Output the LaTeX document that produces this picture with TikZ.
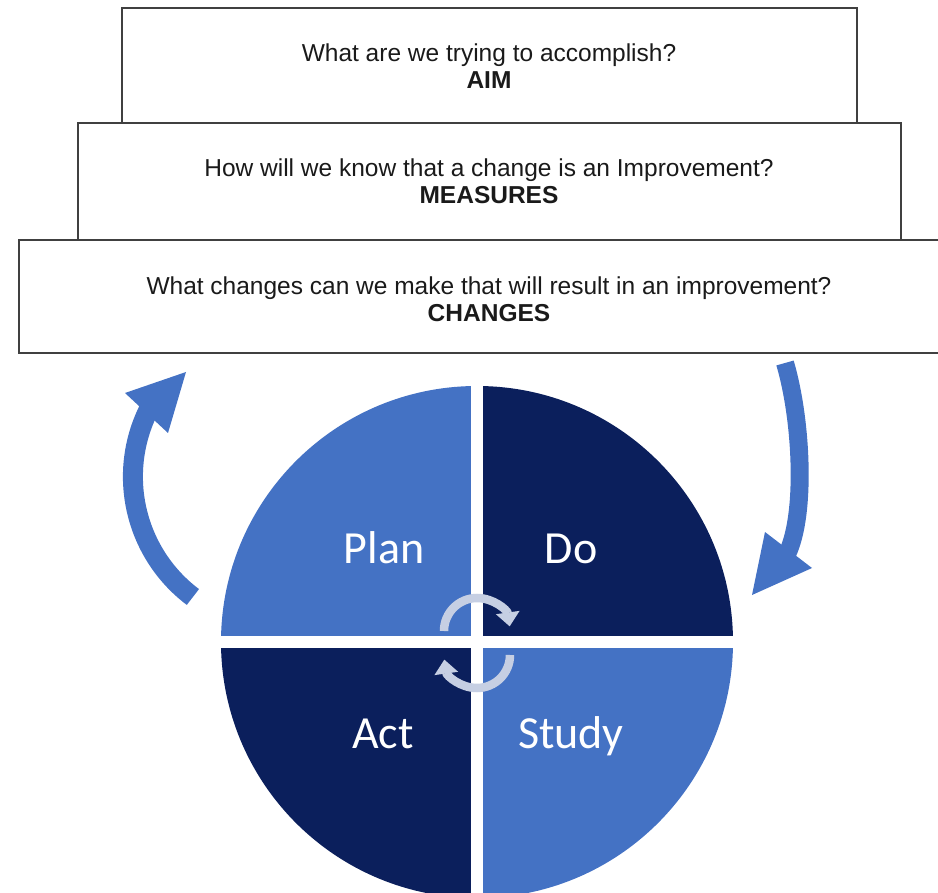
\documentclass[tikz,border=0pt]{standalone}
\usepackage{fontspec}
\setmainfont{Liberation Sans}
\newfontfamily\calib{Carlito}
\usetikzlibrary{arrows.meta}
\definecolor{lightblue}{HTML}{4472C4}
\definecolor{darknavy}{HTML}{0B1F5C}
\definecolor{boxline}{HTML}{404040}
\definecolor{boxtext}{HTML}{1A1A1A}
\definecolor{cyclearc}{HTML}{C6CFE3}
\tikzset{
  qbox/.style={draw=boxline, line width=1.5pt, fill=white},
  qtext/.style={anchor=base, inner sep=0pt, text=boxtext, font=\fontsize{24.5}{27}\selectfont},
  qbold/.style={qtext, font=\fontsize{24.5}{27}\selectfont\bfseries},
  phase/.style={anchor=base, inner sep=0pt, text=white, font=\calib\fontsize{46}{50}\selectfont},
  bigshaft/.style={draw=lightblue, line cap=butt},
  bighead/.style={fill=lightblue},
  cyc/.style={draw=cyclearc, line width=8.5pt, -{Triangle[width=23pt,length=14pt]}}
}
\begin{document}
\begin{tikzpicture}[x=1pt,y=-1pt]
\useasboundingbox (0,0) rectangle (938,893);
\clip (0,0) rectangle (938,893);

% question boxes
\path[qbox] (122,8) rectangle (857,123);
\path[qbox] (78,123) rectangle (901,240);
\path[qbox] (19,240) rectangle (950,353);

\node[qtext] (q1) at (489,62) {What are we trying to accomplish?};
\node[qbold] (a1) at (489,89) {AIM};
\node[qtext] (q2) at (489,177) {How will we know that a change is an Improvement?};
\node[qbold] (a2) at (489,204) {MEASURES};
\node[qtext] (q3) at (489,295) {What changes can we make that will result in an improvement?};
\node[qbold] (a3) at (489,322) {CHANGES};

% PDSA circle
\coordinate (c) at (477,642);
\fill[lightblue] (c) -- ++(256,0) arc[start angle=0, end angle=90, radius=256] -- cycle;
\fill[darknavy] (c) -- ++(0,256) arc[start angle=90, end angle=180, radius=256] -- cycle;
\fill[lightblue] (c) -- ++(-256,0) arc[start angle=180, end angle=270, radius=256] -- cycle;
\fill[darknavy] (c) -- ++(0,-256) arc[start angle=270, end angle=360, radius=256] -- cycle;
\fill[white] (471,380) rectangle (483,900);
\fill[white] (210,636) rectangle (745,648);

\node[phase] (plan) at (384,563) {Plan};
\node[phase] (do) at (571,563) {Do};
\node[phase] (act) at (383,748) {Act};
\node[phase] (study) at (571,748) {Study};

% small cycle arrows
\coordinate (tc) at (477,631);
\coordinate (bc) at (477,655);
\draw[cyc] (444,631) arc[start angle=180, end angle=352, radius=33];
\draw[cyc] (510,655) arc[start angle=0, end angle=172, radius=33];

% left big arrow
\coordinate (ltail) at (192.9,597);
\coordinate (ltip) at (186,372);
\coordinate (lb1) at (125,393);
\coordinate (lb2) at (168,433);
\draw[bigshaft, line width=20pt] (ltail) arc[start angle=127, end angle=208, radius=150.6];
\fill[bighead] (ltip) -- (lb1) -- (lb2) -- cycle;

% right big arrow
\coordinate (rtail) at (785,363);
\coordinate (rend) at (785,558);
\coordinate (rtip) at (752,595);
\coordinate (rb1) at (765,532);
\coordinate (rb2) at (812,568);
\draw[bigshaft, line width=18pt] (rtail) .. controls (802,420) and (807,520) .. (rend);
\fill[bighead] (rtip) -- (rb1) -- (rb2) -- cycle;
\end{tikzpicture}
\end{document}
